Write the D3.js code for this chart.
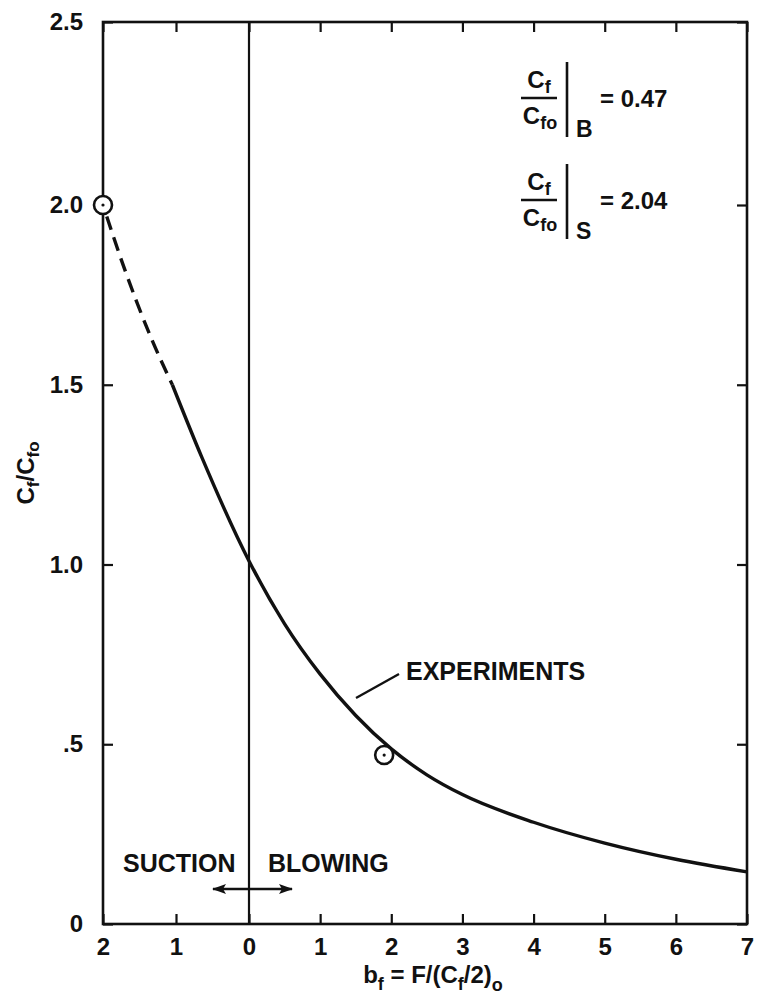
<!DOCTYPE html>
<html>
<head>
<meta charset="utf-8">
<script src="https://cdn.jsdelivr.net/npm/d3@7"></script>
<style>
  html, body { margin: 0; padding: 0; background: #fff; }
  svg { display: block; font-family: "Liberation Sans", Arial, Helvetica, sans-serif; font-weight: bold; }
</style>
</head>
<body>
<svg id="chart" width="757" height="994"></svg>
<script>
// Skin-friction ratio vs. blowing/suction parameter
const xTickValues = [-2, -1, 0, 1, 2, 3, 4, 5, 6, 7];
const xTickLabels = ["2", "1", "0", "1", "2", "3", "4", "5", "6", "7"];
const yTickValues = [0, 0.5, 1.0, 1.5, 2.0, 2.5];
const yTickLabels = ["0", ".5", "1.0", "1.5", "2.0", "2.5"];

// extrapolated (dashed) part of the curve, suction side
const dashedB = [-2, -1.71, -1.34, -1.05];
const dashedC = [2.0, 1.825, 1.63, 1.5];
// experimental curve (solid)
const solidB = [-1.05, -0.65, 0, 0.5, 1, 1.5, 2, 2.5, 3, 4, 5, 6, 7];
const solidC = [1.5, 1.30, 1.01, 0.835, 0.695, 0.58, 0.487, 0.415, 0.36, 0.283, 0.225, 0.18, 0.145];
// marked points: suction and blowing conditions
const markerB = [-2, 1.9];
const markerC = [2.0, 0.47];

const ratioSubs = ["B", "S"];
const ratioValues = ["0.47", "2.04"];

const svg = d3.select("#chart");

const x = d3.scaleLinear().domain([-2, 0, 7]).range([103, 249, 747]);
const y = d3.scaleLinear().domain([0, 2.0, 2.5]).range([924, 205, 22]);

const ink = "#111";

// axes with inward ticks
const fmtX = d => xTickLabels[xTickValues.indexOf(d)];
const fmtY = d => yTickLabels[yTickValues.indexOf(d)];

const gB = svg.append("g").attr("transform", `translate(0,${y(0)})`)
  .call(d3.axisBottom(x).tickValues(xTickValues).tickFormat(fmtX).tickSize(-10).tickPadding(14));
const gL = svg.append("g").attr("transform", `translate(${x(-2)},0)`)
  .call(d3.axisLeft(y).tickValues(yTickValues).tickFormat(fmtY).tickSize(-10).tickPadding(20));
const gT = svg.append("g").attr("transform", `translate(0,${y(2.5)})`)
  .call(d3.axisTop(x).tickValues(xTickValues).tickFormat("").tickSize(-10));
const gR = svg.append("g").attr("transform", `translate(${x(7)},0)`)
  .call(d3.axisRight(y).tickValues(yTickValues).tickFormat("").tickSize(-10));

[gB, gL, gT, gR].forEach(g => {
  g.select(".domain").remove();
  g.selectAll(".tick line").attr("stroke", ink).attr("stroke-width", 2.2);
  g.selectAll(".tick text").attr("fill", ink).style("font-size", "24px").style("font-weight", "bold")
    .style("font-family", '"Liberation Sans", Arial, sans-serif');
});

// frame
svg.append("rect")
  .attr("x", x(-2)).attr("y", y(2.5))
  .attr("width", x(7) - x(-2)).attr("height", y(0) - y(2.5))
  .attr("fill", "none").attr("stroke", ink).attr("stroke-width", 2.6);

// zero line separating suction and blowing
svg.append("line")
  .attr("x1", x(0)).attr("x2", x(0)).attr("y1", y(2.5)).attr("y2", y(0))
  .attr("stroke", ink).attr("stroke-width", 2.2);

// curves
const line = d3.line().x(d => x(d[0])).y(d => y(d[1])).curve(d3.curveMonotoneX);
svg.append("path")
  .attr("d", line(dashedB.map((b, i) => [b, dashedC[i]])))
  .attr("fill", "none").attr("stroke", ink).attr("stroke-width", 3.4)
  .attr("stroke-dasharray", "14,8").attr("stroke-dashoffset", -12);
svg.append("path")
  .attr("d", line(solidB.map((b, i) => [b, solidC[i]])))
  .attr("fill", "none").attr("stroke", ink).attr("stroke-width", 3.4);

// marked points: open circle with centre dot
const pts = markerB.map((b, i) => [b, markerC[i]]);
const mk = svg.selectAll("g.mk").data(pts).join("g").attr("class", "mk")
  .attr("transform", d => `translate(${x(d[0])},${y(d[1])})`);
mk.append("circle").attr("r", 9).attr("fill", "#fff").attr("stroke", ink).attr("stroke-width", 2.6);
mk.append("circle").attr("r", 1.6).attr("fill", ink);

// EXPERIMENTS label with leader
svg.append("line")
  .attr("x1", 356).attr("y1", 698).attr("x2", 399).attr("y2", 674)
  .attr("stroke", ink).attr("stroke-width", 2.4);
svg.append("text").attr("x", 406).attr("y", 680)
  .style("font-size", "25px").attr("fill", ink).text("EXPERIMENTS");

// suction / blowing labels with double arrow
svg.append("text").attr("x", 123).attr("y", 872).style("font-size", "25px").attr("fill", ink).text("SUCTION");
svg.append("text").attr("x", 268).attr("y", 872).style("font-size", "25px").attr("fill", ink).text("BLOWING");
const defs = svg.append("defs");
defs.append("marker").attr("id", "ah").attr("viewBox", "0 0 14 10").attr("refX", 13).attr("refY", 5)
  .attr("markerWidth", 14).attr("markerHeight", 10).attr("markerUnits", "userSpaceOnUse")
  .attr("orient", "auto-start-reverse")
  .append("path").attr("d", "M0,0 L14,5 L0,10 L3,5 Z").attr("fill", ink);
svg.append("line")
  .attr("x1", 213).attr("x2", 292).attr("y1", 889).attr("y2", 889)
  .attr("stroke", ink).attr("stroke-width", 2.4)
  .attr("marker-start", "url(#ah)").attr("marker-end", "url(#ah)");

// axis titles
const yl = svg.append("text")
  .attr("transform", `translate(34,${(y(0) + y(2.5)) / 2}) rotate(-90)`)
  .attr("text-anchor", "middle").style("font-size", "24px").attr("fill", ink);
yl.append("tspan").text("C");
yl.append("tspan").attr("dy", 5).style("font-size", "17px").text("f");
yl.append("tspan").attr("dy", -5).text("/C");
yl.append("tspan").attr("dy", 5).style("font-size", "17px").text("fo");

const xl = svg.append("text").attr("x", 433).attr("y", 983)
  .attr("text-anchor", "middle").style("font-size", "24px").attr("fill", ink);
xl.append("tspan").text("b");
xl.append("tspan").attr("dy", 7).style("font-size", "18px").text("f");
xl.append("tspan").attr("dy", -7).text(" = F/(C");
xl.append("tspan").attr("dy", 7).style("font-size", "18px").text("f");
xl.append("tspan").attr("dy", -7).text("/2)");
xl.append("tspan").attr("dy", 8).style("font-size", "18px").text("o");

// ratio annotations in upper right
ratioSubs.forEach((s, i) => {
  const g = svg.append("g").attr("transform", `translate(0,${98 + i * 102})`);
  const num = g.append("text").attr("x", 539).attr("y", -10).attr("text-anchor", "middle")
    .style("font-size", "24px").attr("fill", ink);
  num.append("tspan").text("C");
  num.append("tspan").attr("dy", 5).style("font-size", "18px").text("f");
  g.append("line").attr("x1", 521).attr("x2", 557).attr("y1", 0).attr("y2", 0)
    .attr("stroke", ink).attr("stroke-width", 2.4);
  const den = g.append("text").attr("x", 540).attr("y", 26).attr("text-anchor", "middle")
    .style("font-size", "24px").attr("fill", ink);
  den.append("tspan").text("C");
  den.append("tspan").attr("dy", 5).style("font-size", "18px").text("fo");
  g.append("line").attr("x1", 567).attr("x2", 567).attr("y1", -36).attr("y2", 39)
    .attr("stroke", ink).attr("stroke-width", 2.6);
  g.append("text").attr("x", 576).attr("y", 39).style("font-size", "23px").attr("fill", ink).text(s);
  g.append("text").attr("x", 600).attr("y", 9).style("font-size", "24px").attr("fill", ink)
    .text("= " + ratioValues[i]);
});
</script>
</body>
</html>
